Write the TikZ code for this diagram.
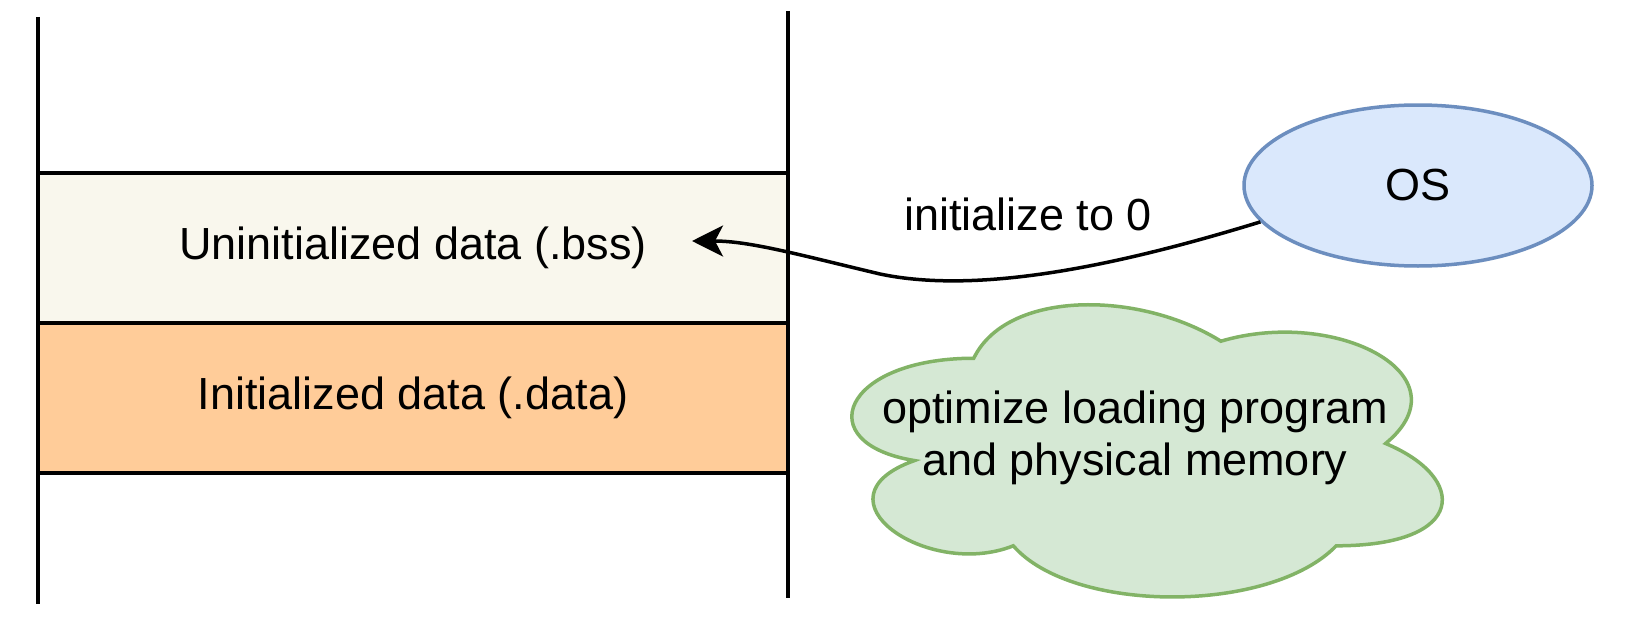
\documentclass[tikz,border=0pt]{standalone}
\usepackage{fontspec}
\setmainfont{Liberation Sans}
\usetikzlibrary{shapes.geometric,arrows.meta}
\definecolor{bssfill}{HTML}{F9F7ED}
\definecolor{datafill}{HTML}{FFCC99}
\definecolor{osfill}{HTML}{DAE8FC}
\definecolor{osline}{HTML}{6C8EBF}
\definecolor{cloudfill}{HTML}{D5E8D4}
\definecolor{cloudline}{HTML}{82B366}
\tikzset{
  every node/.style={font=\fontsize{45}{52}\selectfont, inner sep=0pt},
  segbox/.style={draw=black, line width=3.5pt, rectangle, minimum width=750pt, minimum height=150pt},
  wall/.style={draw=black, line width=3.5pt},
  osnode/.style={draw=osline, fill=osfill, line width=3.5pt, ellipse, minimum width=348pt, minimum height=161pt},
  cloudshape/.style={draw=cloudline, fill=cloudfill, line width=3.5pt},
  arr/.style={draw=black, line width=3.5pt, -{Stealth[length=31pt,width=31pt,inset=8pt]}},
}
\begin{document}
\begin{tikzpicture}[x=1pt, y=-1pt]
\useasboundingbox (0,0) rectangle (1627,634);
\fill[white] (0,0) rectangle (1627,634);

% memory segments
\node[segbox, fill=bssfill] (bss) at (413,248) {Uninitialized data (.bss)};
\node[segbox, fill=datafill] (data) at (413,398) {Initialized data (.data)};

% vertical walls
\draw[wall] (38,17) -- (38,604);
\draw[wall] (788,11) -- (788,598);

% OS ellipse
\node[osnode] (os) at (1418,185.5) {OS};

% cloud
\begin{scope}[shift={(809,273)}, x=659pt, y=-341pt]
\draw[cloudshape] (0.25,0.25)
  .. controls (0.05,0.25) and (0,0.5) .. (0.16,0.55)
  .. controls (0,0.66) and (0.18,0.9) .. (0.31,0.8)
  .. controls (0.4,1) and (0.7,1) .. (0.8,0.8)
  .. controls (1,0.8) and (1,0.6) .. (0.875,0.5)
  .. controls (1,0.3) and (0.8,0.1) .. (0.625,0.2)
  .. controls (0.5,0.05) and (0.3,0.05) .. (0.25,0.25) -- cycle;
\end{scope}
\node[align=center] (cloudtxt) at (1135,438) {optimize loading program\\and physical memory};

% arrow
\coordinate (tip) at (692,241);
\draw[arr] (os.193.5) .. controls (1120,265) and (980,295) .. (880,274)
  .. controls (800,255) and (750,241) .. (tip);
\node[anchor=base] (lbl) at (1028,230) {initialize to 0};
\end{tikzpicture}
\end{document}
